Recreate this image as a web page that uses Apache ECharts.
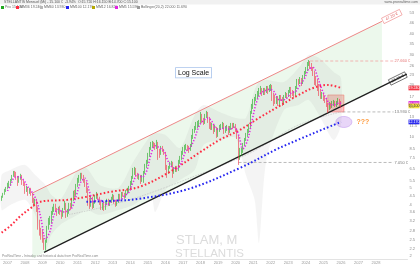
<!DOCTYPE html>
<html><head><meta charset="utf-8">
<script src="https://cdn.jsdelivr.net/npm/echarts@6/dist/echarts.min.js"></script>
<style>html,body{margin:0;padding:0;background:#fff}#c{width:420px;height:265px}</style>
</head><body><div id="c"></div>
<script>
// ---- categories: monthly, Sep 2006 .. Oct 2029 ----
const firstMonth = '2006-09', lastMonth = '2029-10';
const months = [];
for (let y = 2006; y <= 2029; y++) for (let m = 1; m <= 12; m++) {
  const s = y + '-' + String(m).padStart(2, '0');
  if (s >= firstMonth && s <= lastMonth) months.push(s);
}
const at = m => months.indexOf(m);

// ---- monthly candles (Sep 2006 .. Jan 2026) ----
const firstOpen = 4.26;
const closes = [
 4.44,4.62,4.81,5.01,
 5.21,5.36,5.58,5.88,6.13,5.96,5.73,5.50,5.73,5.88,5.43,5.28,
 4.87,5.01,4.74,4.94,4.62,4.20,4.09,4.26,3.82,3.17,2.77,2.66,
 2.49,2.27,2.42,2.92,3.17,3.21,3.57,3.72,3.93,3.72,3.57,3.77,
 3.57,3.43,3.77,4.04,3.53,3.57,3.98,3.88,4.26,4.68,4.56,5.14,
 5.58,5.81,5.96,5.88,5.58,5.28,4.87,4.26,4.04,4.38,3.98,4.09,
 4.44,4.56,4.38,4.09,3.88,3.98,3.77,4.09,4.20,4.04,4.15,4.32,
 4.50,4.15,4.04,4.15,4.50,4.38,4.62,4.56,4.44,4.74,4.87,5.01,
 5.36,5.73,6.21,6.38,5.96,5.81,5.88,5.50,5.81,6.13,6.73,7.11,
 7.81,8.46,8.93,9.17,8.93,8.69,9.17,8.24,7.91,8.58,8.35,8.02,
 6.73,6.21,6.55,6.92,7.01,6.21,6.38,6.55,6.38,7.11,7.40,8.02,
 8.35,8.58,8.81,8.58,8.35,8.81,9.95,10.78,11.23,11.69,11.85,12.17,
 13.38,12.50,12.17,13.20,13.74,12.50,11.69,11.38,11.69,10.93,11.23,10.22,
 10.93,11.38,11.38,11.85,10.64,11.23,11.38,10.64,11.23,11.69,11.38,11.69,
 10.93,10.08,7.60,8.02,8.13,8.81,9.55,10.22,10.78,11.38,13.74,15.10,
 15.72,16.59,17.27,17.74,18.72,18.98,17.98,18.72,18.22,19.24,18.72,19.50,
 19.76,17.27,17.04,15.93,16.81,15.72,17.04,16.59,15.51,17.04,17.74,17.04,
 18.22,18.98,18.22,17.98,17.27,19.24,21.13,20.85,21.71,20.57,22.30,23.54,
 24.84,26.57,26.93,25.87,25.18,23.54,22.00,21.42,19.76,18.47,17.27,17.50,
 16.81,16.37,15.51,14.70,15.30,14.89,15.51,15.93,15.30,15.72,16.15,15.72,
 15.10
];
const highs = [
 4.50,4.68,4.94,5.07,
 5.36,5.50,5.65,5.96,6.29,6.29,6.21,5.88,5.88,6.05,5.96,5.58,
 5.36,5.14,5.07,5.01,5.01,4.68,4.38,4.32,4.32,3.88,3.26,2.92,
 2.85,2.56,2.49,3.00,3.34,3.43,3.67,3.88,4.04,4.04,3.82,3.88,
 3.93,3.67,3.82,4.20,4.09,3.77,4.09,4.09,4.38,4.81,4.87,5.28,
 5.73,5.96,6.13,6.13,5.96,5.65,5.43,5.01,4.38,4.50,4.44,4.20,
 4.56,4.74,4.62,4.44,4.20,4.09,4.09,4.20,4.32,4.32,4.26,4.44,
 4.62,4.56,4.26,4.26,4.62,4.62,4.74,4.74,4.68,4.87,5.01,5.14,
 5.50,5.88,6.55,6.64,6.55,6.13,6.05,5.96,5.96,6.29,6.92,7.30,
 8.02,8.69,9.30,9.42,9.30,9.17,9.55,9.30,8.46,8.81,8.81,8.46,
 8.13,6.82,6.73,7.11,7.20,7.11,6.64,6.73,6.73,7.30,7.70,8.24,
 8.69,8.93,9.05,8.93,8.81,9.05,10.22,11.08,11.53,12.17,12.33,12.50,
 13.93,13.56,12.85,13.56,14.12,13.93,13.02,12.17,12.01,11.85,11.69,11.38,
 11.23,11.69,11.85,12.17,12.01,11.53,11.69,11.53,11.53,12.01,12.01,12.01,
 11.85,11.23,10.22,8.58,8.58,9.17,9.81,10.50,11.08,11.85,14.12,15.51,
 16.59,17.04,17.74,18.47,19.24,19.76,19.24,19.24,19.24,19.76,19.76,20.03,
 20.30,20.03,17.98,17.50,17.27,17.27,17.50,17.50,17.04,17.50,18.22,17.98,
 18.72,19.50,19.50,18.72,18.47,19.76,21.71,21.71,22.30,22.00,22.91,24.18,
 25.52,27.29,28.04,27.66,26.93,25.52,24.18,22.60,21.71,20.30,18.98,18.22,
 17.98,17.27,16.81,15.72,15.93,15.72,16.15,16.37,16.15,16.15,16.81,16.59,
 16.15
];
const lows = [
 4.20,4.38,4.56,4.74,
 4.94,5.01,5.14,5.50,5.81,5.81,5.58,5.14,5.36,5.58,5.21,5.14,
 4.62,4.74,4.50,4.62,4.50,4.09,3.88,3.98,3.62,2.85,2.63,2.49,
 2.39,2.17,2.15,2.39,2.85,3.04,3.09,3.48,3.62,3.62,3.43,3.53,
 3.48,3.30,3.39,3.72,3.34,3.39,3.53,3.72,3.82,4.20,4.38,4.50,
 5.07,5.36,5.50,5.65,5.36,5.07,4.68,3.93,3.77,3.88,3.77,3.82,
 4.04,4.32,4.26,3.98,3.72,3.72,3.67,3.72,3.98,3.93,3.93,4.09,
 4.26,4.04,3.88,3.93,4.09,4.20,4.32,4.44,4.32,4.38,4.62,4.74,
 4.87,5.21,5.65,5.96,5.81,5.65,5.58,5.28,5.43,5.36,6.05,6.55,
 6.92,7.60,8.35,8.58,8.58,8.35,8.46,7.30,7.50,7.81,8.13,7.81,
 6.38,5.73,6.05,6.47,6.64,5.73,6.05,6.21,6.21,6.29,6.92,7.30,
 7.81,8.13,8.35,8.24,8.02,8.24,8.69,9.68,10.50,10.93,11.23,11.38,
 12.01,12.01,11.69,11.85,12.85,12.01,11.08,10.93,10.93,10.36,10.64,9.81,
 9.95,10.64,10.93,11.08,10.36,10.50,10.78,10.22,10.50,10.93,11.08,11.23,
 10.64,9.68,6.82,7.30,7.70,8.02,8.81,9.42,9.95,10.50,11.23,13.56,
 14.50,15.30,16.15,16.59,17.27,17.98,17.27,17.50,17.50,17.98,17.74,18.22,
 18.47,16.15,15.10,15.51,15.51,15.10,15.30,16.15,15.10,15.30,16.81,16.59,
 17.04,17.98,16.81,17.27,16.81,17.27,18.98,20.03,20.30,19.76,20.30,22.00,
 23.22,24.18,25.87,24.84,24.18,22.60,20.03,19.76,18.47,17.27,16.59,16.59,
 16.15,15.72,14.89,13.74,14.31,14.50,14.70,15.10,14.89,14.89,15.30,15.10,
 14.70
];

// ---- moving averages ----
const redMA = [['2006-09',2.74],['2007-03',3.00],['2007-10',3.43],['2008-05',3.82],['2008-11',4.15],['2010-06',4.26],['2011-07',4.44],['2012-11',4.74],['2014-07',5.07],['2016-04',6.21],['2018-01',8.13],['2019-02',9.55],['2020-04',10.93],['2021-05',12.85],['2022-07',15.10],['2023-08',17.50],['2024-06',19.24],['2025-04',20.03],['2026-01',19.24]];
const blueMA = [['2011-07',4.15],['2012-11',4.20],['2014-07',4.32],['2017-05',4.94],['2020-04',6.55],['2022-07',8.58],['2026-01',12.17]];
const grayMA = [['2010-06',3.48],['2012-04',3.82],['2014-07',4.44],['2017-06',5.73],['2020-11',8.02],['2023-08',11.69],['2026-01',13.93]];
const magentaMA = [['2007-01',4.81],['2007-03',5.18],['2007-06',5.78],['2007-09',5.81],['2007-12',5.56],['2008-03',5.06],['2008-06',4.69],['2008-09',4.19],['2008-12',3.29],['2009-03',2.52],['2009-06',2.77],['2009-09',3.50],['2009-12',3.74],['2010-03',3.62],['2010-06',3.66],['2010-09',3.83],['2010-12',4.49],['2011-03',5.39],['2011-06',5.70],['2011-09',4.77],['2011-12',4.15],['2012-03',4.28],['2012-06',4.17],['2012-09',3.98],['2012-12',4.16],['2013-03',4.22],['2013-06',4.24],['2013-09',4.50],['2013-12',4.72],['2014-03',5.42],['2014-06',6.01],['2014-09',5.79],['2014-12',6.22],['2015-03',7.77],['2015-06',8.83],['2015-09',8.58],['2015-12',8.22],['2016-03',7.13],['2016-06',6.57],['2016-09',6.50],['2016-12',7.07],['2017-03',8.22],['2017-06',8.63],['2017-09',9.76],['2017-12',11.53],['2018-03',12.40],['2018-06',12.82],['2018-09',12.17],['2018-12',11.08],['2019-03',11.02],['2019-06',11.29],['2019-09',11.02],['2019-12',11.32],['2020-03',10.22],['2020-06',8.48],['2020-09',9.45],['2020-12',12.11],['2021-03',15.63],['2021-06',17.83],['2021-09',18.52],['2021-12',18.87],['2022-03',18.42],['2022-06',16.55],['2022-09',16.33],['2022-12',16.77],['2023-03',18.03],['2023-06',18.32],['2023-09',19.98],['2023-12',21.77],['2024-03',24.77],['2024-06',25.31],['2024-09',22.30],['2024-12',18.82],['2025-03',16.68],['2025-06',15.34],['2025-09',15.37],['2025-12',15.76],['2026-01',15.59]];

// ---- envelope band [month, upper, lower] ----
const band = [['2006-09',5.96,3.72],['2007-03',6.38,3.98],['2008-01',6.82,4.26],['2008-08',5.96,3.48],['2009-03',5.21,2.17],['2009-07',4.56,2.66],['2010-01',4.26,3.04],['2011-01',6.38,3.48],['2011-07',6.55,3.72],['2012-04',5.21,3.48],['2013-05',5.01,3.72],['2014-03',7.11,3.98],['2015-03',10.22,4.56],['2015-06',10.50,3.62],['2016-01',10.22,4.87],['2016-11',8.58,5.58],['2017-09',13.38,6.38],['2018-03',15.30,8.93],['2019-02',13.93,9.55],['2020-01',12.85,9.81],['2020-08',12.85,5.96],['2021-02',18.72,4.26],['2021-05',20.85,2.39],['2021-10',21.42,7.30],['2022-10',20.85,14.31],['2023-08',25.18,15.30],['2024-03',30.00,16.37],['2024-10',28.80,13.38],['2025-08',23.86,9.55],['2026-01',22.00,11.69]];

// ---- trend channel ----
const channelRed = [['2008-06',4.67],['2028-05',47.2]];
const channelBlack = [['2008-06',1.94],['2028-05',19.65]];
const blackRay = [['2009-02',2.10],['2029-10',23.19]];

// ---- horizontal levels ----
const levelValues = [27.66, 13.93, 7.05];
const levelStarts = ['2024-04', '2026-02', '2020-03'];
const levelEnd = '2029-01';
const levelColors = ['#f3a3a3', '#a8a8a8', '#a8a8a8'];
const levelTextColors = ['#e57373', '#777', '#777'];

// ---- price axis ticks ----
const yTicks = [2, 2.2, 2.5, 2.8, 3.2, 3.6, 4, 4.5, 5, 5.5, 6.5, 7.5, 8.5, 10, 11.5, 13, 15, 17, 20, 23, 26, 30, 35, 40, 46, 53];

// ---- box of recent range ----
const boxFrom = '2025-04', boxTo = '2026-03', boxTop = 17.5, boxBottom = 13.93;

const idx = a => a.map(p => [at(p[0]), p[1]]);
const candles = closes.map((c, i) => [i ? closes[i - 1] : firstOpen, c, lows[i], highs[i]]);
const FONT = 'Liberation Sans, Arial, sans-serif';

const chart = echarts.init(document.getElementById('c'), null, { renderer: 'canvas', width: 420, height: 265 });

const levelSeries = levelValues.map((v, k) => ({
  type: 'line', name: 'level' + k, symbol: 'none', silent: true, z: 3,
  data: [[at(levelStarts[k]), v], [at(levelEnd), v]],
  lineStyle: { color: levelColors[k], width: 0.8, type: [3, 2] },
  endLabel: { show: true, formatter: v.toFixed(3) + ' \u20ac', fontSize: 4, color: levelTextColors[k], distance: 1, fontFamily: FONT }
}));

const dotted = (name, data, color, width, z) => ({
  type: 'line', name, data: idx(data), symbol: 'none', smooth: 0.35, silent: true, z,
  lineStyle: { color, width, type: [width * 0.8, width * 1.1] }
});

chart.setOption({
  animation: false,
  backgroundColor: '#fff',
  grid: { left: 0, right: 12, top: 10, bottom: 6 },
  xAxis: {
    type: 'category', data: months, boundaryGap: true,
    axisLine: { show: true, lineStyle: { color: '#d0d0d0', width: 0.6 } },
    axisTick: { show: false }, splitLine: { show: false },
    axisLabel: { interval: (i, v) => v.endsWith('-01') && v < '2029', formatter: v => v.slice(0, 4), fontSize: 4, color: '#9a9a9a', margin: 2, fontFamily: FONT }
  },
  yAxis: {
    type: 'log', position: 'right', min: 1.92, max: 55,
    axisLine: { show: false }, axisTick: { show: false }, splitLine: { show: false },
    axisLabel: { customValues: yTicks, formatter: v => String(+(+v).toFixed(2)), fontSize: 4, color: '#8a8a8a', margin: 2, fontFamily: FONT }
  },
  series: [
    {
      type: 'custom', name: 'channelFill', data: [[0, 10]], silent: true, z: 1, clip: true,
      renderItem: (p, api) => ({
        type: 'polygon',
        shape: { points: channelRed.map(q => api.coord([at(q[0]), q[1]])).concat(channelBlack.slice().reverse().map(q => api.coord([at(q[0]), q[1]]))) },
        style: { fill: 'rgba(170,225,170,0.22)' }
      })
    },
    {
      type: 'custom', name: 'band', data: [[0, 10]], silent: true, z: 1, clip: true,
      renderItem: (p, api) => ({
        type: 'polygon',
        shape: { smooth: 0.25, points: band.map(q => api.coord([at(q[0]), q[1]])).concat(band.slice().reverse().map(q => api.coord([at(q[0]), q[2]]))) },
        style: { fill: 'rgba(150,150,150,0.10)' }
      })
    },
    dotted('MM60', grayMA, '#bdbdbd', 0.9, 2),
    { type: 'line', name: 'channelTop', data: idx(channelRed), symbol: 'none', silent: true, z: 3, lineStyle: { color: '#ee8888', width: 1 } },
    { type: 'line', name: 'channelBottom', data: idx(blackRay), symbol: 'none', silent: true, z: 3, lineStyle: { color: '#1e1e1e', width: 1.2 } },
    ...levelSeries,
    {
      type: 'candlestick', name: 'Prix', data: candles, barWidth: 1.1, z: 4,
      itemStyle: { color: '#1fa81f', color0: '#ee3344', borderColor: '#1fa81f', borderColor0: '#ee3344', borderWidth: 0.6 },
      markArea: {
        silent: true,
        itemStyle: { color: 'rgba(255,95,95,0.38)', borderColor: '#ff6a6a', borderWidth: 0.6 },
        data: [[{ xAxis: boxFrom, yAxis: boxTop }, { xAxis: boxTo, yAxis: boxBottom }]]
      }
    },
    dotted('MM36', redMA, '#ff2a40', 2, 5),
    dotted('MM5', magentaMA, '#e324e3', 1.6, 5),
    dotted('MM100', blueMA, '#2424f0', 2, 5)
  ]
});

// ---- annotations positioned through the chart's own scales ----
const P = (m, v) => chart.convertToPixel({ gridIndex: 0 }, [at(m), v]);
const r0 = P(channelRed[0][0], channelRed[0][1]), r1 = P(channelRed[1][0], channelRed[1][1]);
const ang = Math.atan2(r0[1] - r1[1], r1[0] - r0[0]);
const b1 = P(blackRay[1][0], blackRay[1][1]);
const blueLast = blueMA[blueMA.length - 1];
const ell = P('2026-03', blueLast[1]);

const tagList = [
  [redMA[redMA.length - 1][1], '#f23645', '#fff'],
  [magentaMA[magentaMA.length - 1][1], '#d81fd8', '#fff'],
  [closes[closes.length - 1], '#f6e23c', '#333'],
  [blueLast[1], '#2a2aee', '#fff']
];
const tags = tagList.map(t => {
  const y = chart.convertToPixel({ yAxisIndex: 0 }, t[0]);
  return {
    type: 'group', x: 408.5, y: y,
    children: [
      { type: 'rect', shape: { x: 0, y: -2.4, width: 11, height: 4.8 }, style: { fill: t[1] } },
      { type: 'text', style: { x: 5.5, y: 0, text: t[0].toFixed(3), fontSize: 3.6, fill: t[2], align: 'center', verticalAlign: 'middle', fontFamily: FONT } }
    ]
  };
});

const legendItems = [
  ['#1fa81f', 'Prix ' + closes[closes.length - 1].toFixed(3)],
  ['#ff2a40', 'MM36 ' + redMA[redMA.length - 1][1].toFixed(3)],
  ['#b8b8b8', 'MM60 ' + grayMA[grayMA.length - 1][1].toFixed(3)],
  ['#2424f0', 'MM100 ' + blueLast[1].toFixed(3)],
  ['#b5a800', 'MM12 16.820'],
  ['#e324e3', 'MM5 ' + magentaMA[magentaMA.length - 1][1].toFixed(3)],
  ['#9a9a9a', 'Bollinger(20,2) 22.000 11.690']
];
const legendX = [0, 15, 39, 65, 91, 114, 136];
const legend = [];
legendItems.forEach((it, k) => {
  legend.push({ type: 'rect', shape: { x: legendX[k] + 1, y: 6, width: 3, height: 3 }, style: { fill: it[0] } });
  legend.push({ type: 'text', style: { x: legendX[k] + 5, y: 7.5, text: it[1], fontSize: 3.5, fill: '#666', verticalAlign: 'middle', fontFamily: FONT } });
});

chart.setOption({
  graphic: [
    { type: 'rect', shape: { x: 0, y: 0, width: 420, height: 4.5 }, style: { fill: '#f1f1f1' }, silent: true },
    { type: 'text', style: { x: 4, y: 2.3, text: 'STELLANTIS Mensuel (Mi) - 15.100 \u20ac  -3.94%  O:15.720 H:16.150 B:14.700 C:15.100', fontSize: 3.5, fill: '#555', verticalAlign: 'middle', fontFamily: FONT } },
    { type: 'text', style: { x: 418, y: 2.3, text: 'www.prorealtime.com', fontSize: 3.5, fill: '#666', align: 'right', verticalAlign: 'middle', fontFamily: FONT } },
    ...legend,
    { type: 'text', style: { x: 176, y: 68, text: 'Log Scale', fontSize: 7, fill: '#111', backgroundColor: '#fff', borderColor: '#a9c4ec', borderWidth: 0.8, padding: [1.5, 2, 1, 2], fontFamily: FONT } },
    { type: 'text', style: { x: 176, y: 234, text: 'STLAM, M', fontSize: 13, fill: '#dcdcdc', fontFamily: FONT } },
    { type: 'text', style: { x: 175, y: 247.5, text: 'STELLANTIS', fontSize: 11.5, fill: '#dcdcdc', fontFamily: FONT } },
    { type: 'text', style: { x: 2, y: 256.5, text: 'ProRealTime - Intraday and historical data from ProRealTime.com', fontSize: 3.3, fill: '#888', verticalAlign: 'middle', fontFamily: FONT } },
    {
      type: 'group', x: r1[0], y: r1[1], rotation: ang,
      children: [
        { type: 'rect', shape: { x: 1, y: -3, width: 20, height: 6 }, style: { fill: 'rgba(255,255,255,0.9)', stroke: '#ee8888', lineWidth: 0.6 } },
        { type: 'text', style: { x: 11, y: 0, text: channelRed[1][1].toFixed(2) + ' \u20ac', fontSize: 4, fill: '#e06666', align: 'center', verticalAlign: 'middle', fontFamily: FONT } }
      ]
    },
    {
      type: 'group', x: b1[0], y: b1[1], rotation: ang,
      children: [
        { type: 'rect', shape: { x: -19, y: -3, width: 18, height: 6 }, style: { fill: 'rgba(255,255,255,0.9)', stroke: '#333', lineWidth: 0.6 } },
        { type: 'text', style: { x: -10, y: 0, text: blackRay[1][1].toFixed(2) + ' \u20ac', fontSize: 4, fill: '#222', align: 'center', verticalAlign: 'middle', fontFamily: FONT } }
      ]
    },
    { type: 'ellipse', shape: { cx: ell[0], cy: ell[1], rx: 8, ry: 5.5 }, style: { fill: 'rgba(205,165,240,0.45)', stroke: 'rgba(185,140,235,0.8)', lineWidth: 0.6 } },
    { type: 'text', style: { x: ell[0] + 12.5, y: ell[1], text: '???', fontSize: 7, fontWeight: 'bold', fill: '#ff9a3c', verticalAlign: 'middle', fontFamily: FONT } },
    ...tags
  ]
});
</script>
</body></html>
